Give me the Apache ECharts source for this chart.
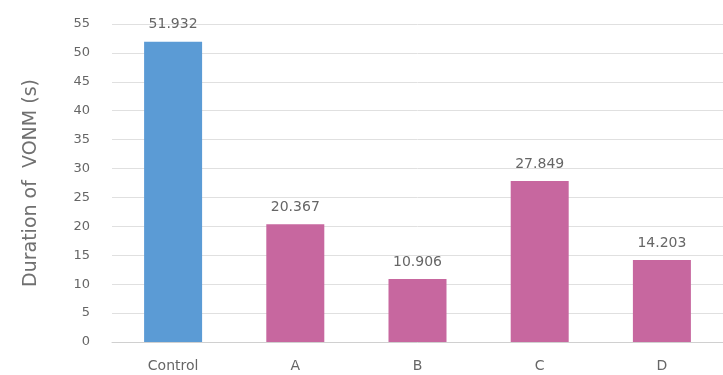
<!DOCTYPE html>
<html><head><meta charset="utf-8">
<script src="https://cdn.jsdelivr.net/npm/echarts@6/dist/echarts.min.js"></script>
<style>html,body{margin:0;padding:0;background:#fff}#c{width:723px;height:375px}</style>
</head><body><div id="c"></div>
<script>
const categories = ["Control", "A", "B", "C", "D"];
const values = [51.932, 20.367, 10.906, 27.849, 14.203];
const barColors = ["#5B9BD5", "#C7679F", "#C7679F", "#C7679F", "#C7679F"];
const yTitle = "Duration of  VONM (s)";
const FONT = "DejaVu Sans";

const chart = echarts.init(document.getElementById('c'));
chart.setOption({
  animation: false,
  grid: { left: 112, top: 24, width: 620, height: 318 },
  xAxis: {
    type: 'category', data: categories,
    axisLine: { lineStyle: { color: '#d0d0d0' } },
    axisTick: { show: false },
    axisLabel: { color: '#666666', fontSize: 14, fontFamily: FONT, margin: 17 }
  },
  yAxis: {
    type: 'value', min: 0, max: 55, interval: 5,
    name: yTitle, nameLocation: 'middle', nameGap: 71,
    nameTextStyle: { color: '#707070', fontSize: 19, fontFamily: FONT },
    axisLine: { show: false }, axisTick: { show: false },
    axisLabel: { color: '#666666', fontSize: 13, fontFamily: FONT, margin: 22 },
    splitLine: { lineStyle: { color: '#e0e0e0' } }
  },
  series: [{
    type: 'bar', barWidth: 58,
    data: values.map((v, i) => ({ value: v, itemStyle: { color: barColors[i] } })),
    label: { show: true, position: 'top', distance: 10, color: '#666666', fontSize: 14, fontFamily: FONT,
      formatter: p => p.value.toFixed(3) }
  }]
});
</script></body></html>
